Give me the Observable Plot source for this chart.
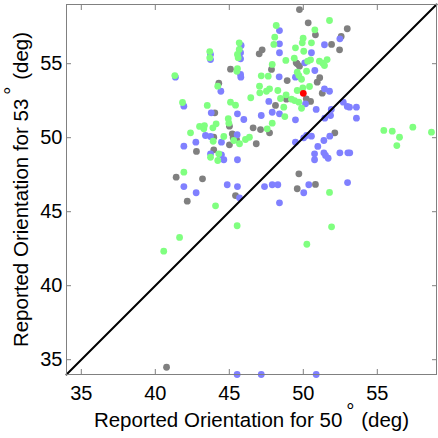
<!DOCTYPE html>
<html><head><meta charset="utf-8">
<script src="https://cdn.jsdelivr.net/npm/d3@7"></script>
<script src="https://cdn.jsdelivr.net/npm/@observablehq/plot@0.6"></script>
<style>body{margin:0;background:#fff;}</style>
</head><body><div id="chart"></div>
<script>
const xTicks = [35, 40, 45, 50, 55];
const yTicks = [35, 40, 45, 50, 55];
const domain = [34, 59];
const diag = [34, 59];
const xLabel = "Reported Orientation for 50° (deg)";
const yLabel = "Reported Orientation for 53° (deg)";

const gray = [
[49.74,58.66],[47.22,55.94],[47.02,55.67],[49.59,54.99],[47.85,54.61],[45.08,54.63],[48.91,53.86],[44.29,53.68],[48.12,52.18],[48.86,52.60],[44.02,51.68],[45.01,50.78],[46.61,50.67],[47.11,50.55],[47.72,50.33],[43.95,50.03],[45.20,50.26],[45.26,49.99],[45.49,49.86],[46.82,49.59],[45.01,49.52],[42.78,49.07],[43.95,49.18],[41.41,47.33],[43.19,47.22],[45.42,46.09],[42.16,45.71],[49.59,46.55],[49.70,47.56],[50.33,57.76],[50.82,56.95],[52.97,57.36],[52.56,56.84],[51.91,56.30],[52.45,55.94],[49.52,55.06],[49.74,54.83],[51.11,54.05],[50.94,53.75],[51.28,53.01],[50.20,52.63],[50.49,52.45],[52.13,50.33],[50.82,46.84],[40.76,34.49]
];
const blue = [
[48.39,57.24],[48.39,56.34],[48.39,55.74],[45.80,56.23],[45.76,55.74],[45.76,55.33],[43.73,55.62],[43.73,55.28],[45.76,54.27],[45.78,54.09],[41.36,54.09],[48.37,54.11],[49.47,54.09],[44.43,53.14],[41.93,52.13],[47.67,52.45],[43.78,51.68],[45.55,51.61],[45.98,51.23],[47.16,51.50],[47.90,51.72],[48.39,51.61],[49.47,51.21],[43.39,50.15],[43.73,50.08],[45.53,50.20],[44.47,49.70],[42.74,49.70],[41.93,49.43],[43.73,48.91],[44.47,48.84],[44.63,48.51],[45.55,48.51],[49.47,49.70],[41.93,46.70],[42.76,46.28],[44.86,46.82],[45.55,46.70],[45.69,45.94],[47.38,46.70],[47.90,46.82],[48.28,46.82],[48.39,45.60],[52.47,56.68],[51.43,56.28],[50.55,55.74],[50.10,55.06],[50.78,54.54],[51.43,53.30],[51.77,53.14],[50.15,52.29],[50.87,51.91],[51.89,51.91],[52.70,52.40],[52.97,52.11],[53.12,52.06],[53.59,52.06],[51.45,51.32],[53.59,51.32],[51.84,51.50],[51.79,50.10],[51.39,49.81],[50.55,50.10],[50.22,50.15],[50.03,49.99],[50.98,49.41],[50.76,48.91],[50.76,48.51],[51.39,48.98],[51.50,48.80],[51.68,48.61],[52.47,48.98],[53.01,48.98],[53.14,48.98],[50.03,46.28],[50.37,46.82],[52.99,46.97],[45.53,34.00],[47.16,34.00],[50.87,34.00]
];
const green = [
[48.17,57.58],[48.07,56.79],[48.01,56.30],[45.67,56.41],[45.67,55.96],[45.55,55.62],[45.60,55.40],[43.68,55.82],[43.68,55.40],[48.82,55.22],[49.39,55.37],[47.90,54.95],[45.55,54.66],[45.51,54.49],[41.32,54.20],[47.16,54.18],[47.63,54.16],[49.59,54.43],[49.70,54.20],[44.22,53.48],[47.04,53.48],[47.06,53.03],[47.51,53.14],[47.72,53.30],[48.28,53.19],[46.45,52.70],[45.08,52.40],[45.42,52.20],[43.51,52.18],[41.84,52.38],[48.46,52.65],[48.84,52.90],[49.20,52.60],[48.68,52.06],[49.41,52.51],[49.59,53.19],[48.75,51.43],[44.93,51.28],[44.97,50.98],[44.11,50.94],[43.89,50.67],[43.32,50.82],[42.99,50.76],[43.28,50.60],[42.38,50.33],[47.90,50.98],[47.56,50.60],[44.63,50.08],[45.30,49.81],[45.69,49.59],[46.09,49.88],[46.36,50.03],[43.91,49.76],[44.29,48.91],[43.73,48.68],[44.22,48.46],[41.93,47.67],[44.07,45.40],[51.77,57.92],[50.78,57.29],[49.99,56.72],[49.93,56.41],[50.55,56.41],[49.47,56.07],[50.03,55.84],[50.49,55.26],[50.30,55.17],[51.09,55.17],[51.32,55.03],[51.61,55.28],[51.43,54.88],[50.22,54.49],[49.88,53.95],[49.97,53.37],[50.42,53.46],[49.70,52.40],[49.88,51.99],[55.44,50.49],[56.01,50.44],[56.50,50.03],[56.32,49.47],[57.40,50.71],[58.66,50.37],[51.77,46.30],[51.91,43.98],[45.53,44.05],[50.24,42.80],[41.64,43.26],[40.57,42.33]
];
const red = [[50.0,53.0]];

const axisGray = "#808080";
const chart = Plot.plot({
  width: 438, height: 438,
  marginLeft: 66, marginRight: 2, marginTop: 4, marginBottom: 64,
  style: {fontFamily: "'Liberation Sans', Arial, sans-serif", fontSize: "20px", color: "#000", background: "#fff"},
  x: {domain: domain},
  y: {domain: domain},
  marks: [
    Plot.dot(gray, {x: d => d[0], y: d => d[1], r: 3.4, fill: "#808080"}),
    Plot.dot(blue, {x: d => d[0], y: d => d[1], r: 3.4, fill: "#8080ff"}),
    Plot.dot(green, {x: d => d[0], y: d => d[1], r: 3.4, fill: "#80ff80"}),
    Plot.dot(red, {x: d => d[0], y: d => d[1], r: 3.4, fill: "#ff0000"}),
    Plot.line(diag, {x: d => d, y: d => d, stroke: "#000", strokeWidth: 2}),
    Plot.frame({stroke: axisGray}),
    Plot.axisX(xTicks, {anchor: "bottom", tickSize: 0, tickPadding: 11, label: null, fontSize: 20}),
    Plot.axisY(yTicks, {anchor: "left", tickSize: 0, tickPadding: 4, label: null, fontSize: 20}),
    Plot.axisX(xTicks, {anchor: "bottom", tickSize: -5, fill: "none", stroke: axisGray, label: null}),
    Plot.axisX(xTicks, {anchor: "top", tickSize: -5, fill: "none", stroke: axisGray, label: null}),
    Plot.axisY(yTicks, {anchor: "left", tickSize: -5, fill: "none", stroke: axisGray, label: null}),
    Plot.axisY(yTicks, {anchor: "right", tickSize: -5, fill: "none", stroke: axisGray, label: null}),
    Plot.text([xLabel], {frameAnchor: "bottom", lineAnchor: "middle", dy: 45.5, fontSize: 20.5, textAnchor: "middle", text: d => d, fill: "#000"}),
    Plot.text([yLabel], {frameAnchor: "left", lineAnchor: "middle", dx: -45, rotate: -90, fontSize: 20.5, textAnchor: "middle", text: d => d, fill: "#000"})
  ]
});
document.getElementById("chart").appendChild(chart);

// Draw the degree sign as a small raised superscript (its own text element), as in the reference
d3.select(chart).selectAll("text")
  .filter(function () { return this.childElementCount === 0 && this.textContent.includes("°"); })
  .each(function () {
    const t = d3.select(this);
    const [a, b] = t.text().split("°");
    const fs = parseFloat(getComputedStyle(this).fontSize) || 20.5;
    t.text(null);
    t.append("tspan").text(a);
    t.append("tspan").attr("dx", 4 + 0.4 * fs + 1).text(b);
    const end = this.getEndPositionOfChar(a.length - 1);
    const deg = d3.select(this.parentNode).append("text")
      .attr("x", end.x + 4)
      .attr("y", end.y - 0.42 * fs)
      .attr("text-anchor", "start")
      .attr("fill", "#000")
      .text("°");
    const tr = t.attr("transform");
    if (tr) deg.attr("transform", tr);
  });
</script>
</body></html>
